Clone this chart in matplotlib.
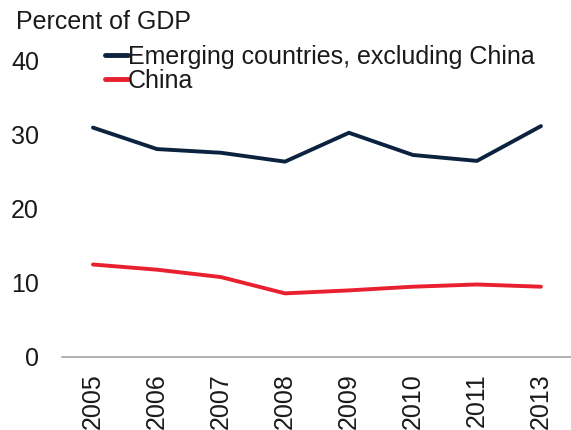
import matplotlib.pyplot as plt

plt.rcParams['font.family'] = ['Liberation Sans', 'DejaVu Sans']

years = ['2005', '2006', '2007', '2008', '2009', '2010', '2011', '2013']
emerging_ex_china = [31.0, 28.1, 27.6, 26.4, 30.3, 27.3, 26.5, 31.2]
china = [12.5, 11.8, 10.8, 8.6, 9.0, 9.5, 9.8, 9.5]

navy = '#0c2340'
red = '#e8202f'
txt = '#1a1a1a'

fig = plt.figure(figsize=(5.71, 4.30), dpi=100)
ax = fig.add_axes([62 / 571, 1 - 357 / 430, 1 - 62 / 571, (357 - 61) / 430])

x = range(len(years))
ax.plot(x, emerging_ex_china, color=navy, lw=2.8, solid_capstyle='round',
        label='Emerging countries, excluding China')
ax.plot(x, china, color=red, lw=2.8, solid_capstyle='round', label='China')

ax.set_ylim(0, 40)
ax.set_xlim(-0.484, 7.47)
ax.set_yticks([0, 10, 20, 30, 40])
ax.set_xticks(list(x))
ax.set_xticklabels(years, rotation=90)

for side in ['top', 'right', 'left']:
    ax.spines[side].set_visible(False)
ax.spines['bottom'].set_color('#a6a6a6')
ax.spines['bottom'].set_linewidth(1.2)

ax.tick_params(axis='both', length=0, labelsize=18, colors=txt)
ax.tick_params(axis='y', pad=16.5)
ax.tick_params(axis='x', pad=11.5)

fig.text(16 / 571, 1 - 29 / 430, 'Percent of GDP', fontsize=18,
         color=txt, va='baseline', ha='left')

# legend rows sit tight under the unit label
leg = ax.legend(loc='upper left', bbox_to_anchor=(105 / 571, 1 - 45 / 430),
                bbox_transform=fig.transFigure, frameon=False, fontsize=18,
                handlelength=0.9, handletextpad=0.0, labelspacing=0.0,
                borderpad=0, borderaxespad=0, labelcolor=txt)
for h in leg.legend_handles:
    h.set_linewidth(3.5)

fig.savefig('out.png', dpi=100)
